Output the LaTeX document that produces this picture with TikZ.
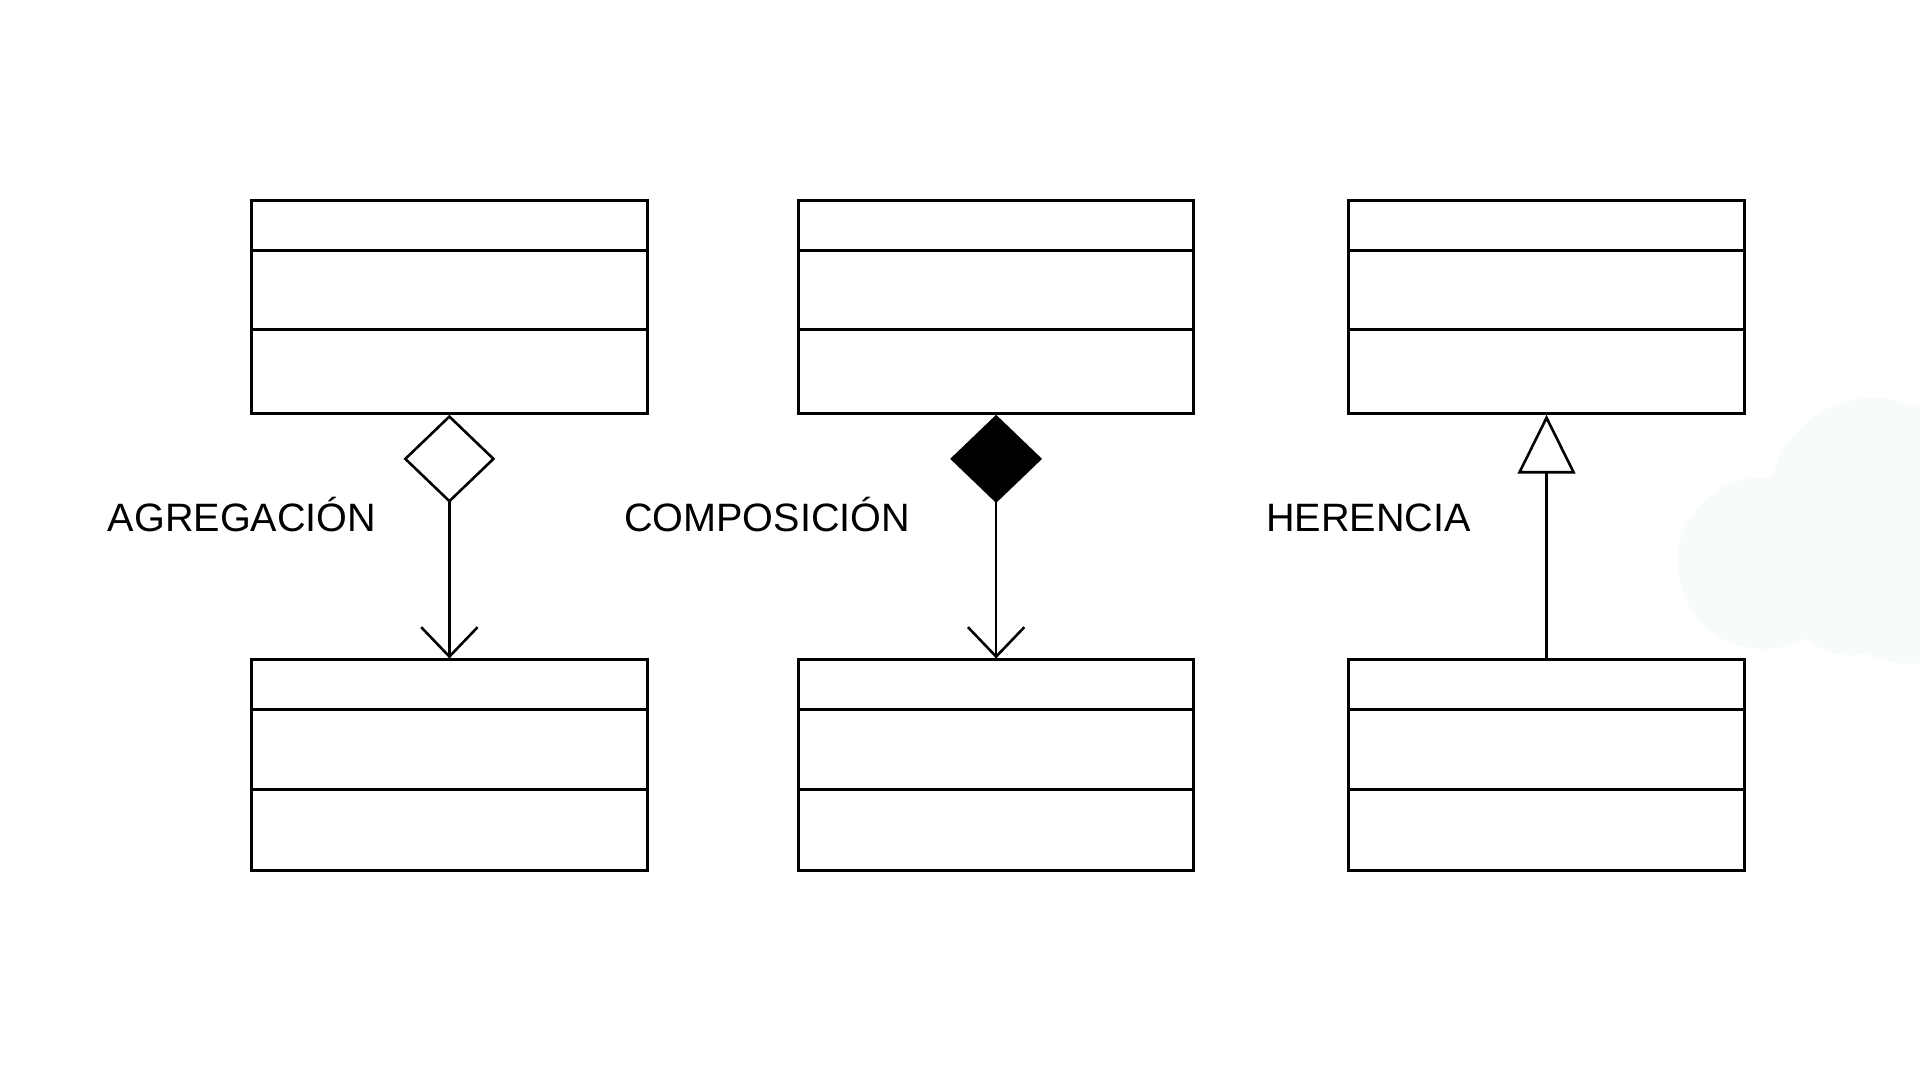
\documentclass[tikz,border=0pt]{standalone}
\usepackage{fontspec}
\setmainfont{Liberation Sans}
\usepackage{xcolor}
\usepackage{tikz}
\usetikzlibrary{arrows.meta,positioning}
\definecolor{cloudgray}{HTML}{F8FBFC}
\tikzset{
  cls/.style={draw,line width=0.7pt,minimum width=3.23cm,minimum height=1.74cm,inner sep=0pt},
  agg/.style={line width=0.6pt,{Diamond[open,length=0.72cm,width=0.75cm]}-{Straight Barb[length=0.24cm,width=0.46cm]}},
  comp/.style={line width=0.6pt,{Diamond[length=0.72cm,width=0.75cm]}-{Straight Barb[length=0.24cm,width=0.46cm]}},
  inh/.style={line width=0.6pt,-{Triangle[open,length=0.48cm,width=0.47cm]}},
  lbl/.style={inner sep=0pt,anchor=base east,font=\fontsize{9.2}{11}\selectfont}
}
\newcommand{\clsdiv}[1]{\draw[line width=0.7pt] ([yshift=-0.42cm]#1.north west) -- ([yshift=-0.42cm]#1.north east);
  \draw[line width=0.7pt] ([yshift=-1.07cm]#1.north west) -- ([yshift=-1.07cm]#1.north east);}

\begin{document}
\begin{tikzpicture}
\useasboundingbox (0,0) rectangle (15.68,8.82);
% faint cloud in the background
\begin{scope}
\clip (0,0) rectangle (15.68,8.82);
\fill[cloudgray] (14.40,4.22) circle (0.70) (15.30,4.72) circle (0.85) (15.10,4.02) circle (0.55) (15.60,4.20) circle (0.80);
\end{scope}
% classes
\node[cls] (agg1) at (3.67,6.315) {};  \node[cls,minimum height=1.72cm,below=1.99cm of agg1] (agg2) {};
\node[cls] (comp1) at (8.135,6.315) {}; \node[cls,minimum height=1.72cm,below=1.99cm of comp1] (comp2) {};
\node[cls] (inh1) at (12.63,6.315) {}; \node[cls,minimum height=1.72cm,below=1.99cm of inh1] (inh2) {};
\clsdiv{agg1} \clsdiv{agg2} \clsdiv{comp1} \clsdiv{comp2} \clsdiv{inh1} \clsdiv{inh2}
% relations
\draw[agg] (agg1.south) -- (agg2.north);   \node[lbl] (lagg) at (3.08,4.48) {AGREGACIÓN};
\draw[comp] (comp1.south) -- (comp2.north); \node[lbl] (lcomp) at (7.44,4.48) {COMPOSICIÓN};
\draw[inh] (inh2.north) -- (inh1.south);   \node[lbl] (linh) at (12.02,4.48) {HERENCIA};
\end{tikzpicture}
\end{document}
